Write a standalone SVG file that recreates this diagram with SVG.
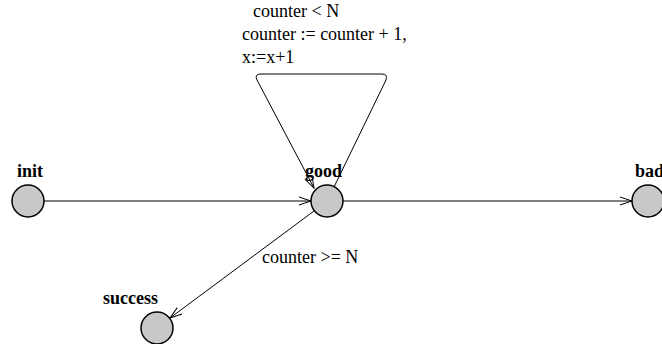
<svg xmlns="http://www.w3.org/2000/svg" width="662" height="344" viewBox="0 0 662 344">
<defs>
<marker id="arr" markerWidth="14" markerHeight="10" refX="13" refY="5" orient="auto" markerUnits="userSpaceOnUse">
<path d="M1,1 L13,5 L1,9" fill="none" stroke="#000" stroke-width="1"/>
</marker>
<style>
.node{fill:#c8c8c8;stroke:#000;stroke-width:1.5}
.lbl{font-family:"Liberation Serif",serif;font-size:18px;font-weight:bold;fill:#000}
.txt{font-family:"Liberation Serif",serif;font-size:18px;fill:#000}
.edge{fill:none;stroke:#000;stroke-width:1}
</style>
</defs>
<rect width="662" height="344" fill="#fff"/>
<g id="connectors">
<line class="edge" x1="44" y1="201" x2="311" y2="201" marker-end="url(#arr)"/>
<line class="edge" x1="343" y1="201" x2="632" y2="201" marker-end="url(#arr)"/>
<line class="edge" x1="314" y1="211" x2="170" y2="318" marker-end="url(#arr)"/>
<path class="edge" d="M334,187 L386,80 Q388,74 382,74 L261,74 Q254,74 257,80 L314,188" marker-end="url(#arr)"/>
<text class="txt" x="262" y="263">counter &gt;= N</text>
<text class="txt" x="253" y="17">counter &lt; N</text>
<text class="txt" x="242" y="40">counter := counter + 1,</text>
<text class="txt" x="242" y="63">x:=x+1</text>
</g>
<g id="init">
<circle class="node" cx="28" cy="201" r="16"/>
<text class="lbl" x="17" y="177">init</text>
</g>
<g id="good">
<circle class="node" cx="327" cy="201" r="16"/>
<text class="lbl" x="305" y="177">good</text>
</g>
<g id="bad">
<circle class="node" cx="648" cy="201" r="16"/>
<text class="lbl" x="635" y="177">bad</text>
</g>
<g id="success">
<circle class="node" cx="157" cy="328" r="16"/>
<text class="lbl" x="103" y="304">success</text>
</g>
</svg>
